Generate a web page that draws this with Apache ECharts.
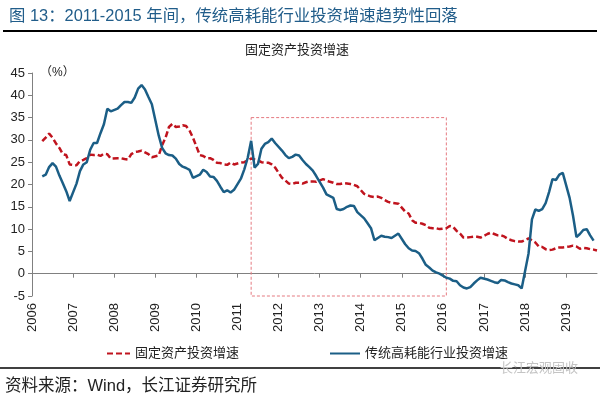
<!DOCTYPE html>
<html>
<head>
<meta charset="utf-8">
<title>固定资产投资增速</title>
<script src="https://cdn.jsdelivr.net/npm/echarts@6/dist/echarts.min.js"></script>
<style>
  html, body { margin: 0; padding: 0; background: #fff; }
  #main { width: 600px; height: 396px; }
</style>
</head>
<body>
<div id="main"></div>
<script>
  // 月份：2006-01 ~ 2019-10（1月份无单月数据，留空）
  var months = [];
  for (var y = 2006; y <= 2019; y++) {
    for (var m = 1; m <= 12; m++) {
      if (y === 2019 && m > 10) break;
      months.push(y + "-" + (m < 10 ? "0" + m : m));
    }
  }

  // 固定资产投资增速（%），累计同比
  var fai = [
    null, null, null, 29.7, 30.5, 31.4, 30.5, 29.2, 28.2, 26.8, 26.6, 24.5,
    null, 24.3, 25.3, 25.5, 25.9, 26.7, 26.6, 26.7, 26.4, 26.9, 26.8, 25.8,
    null, 25.9, 25.9, 25.7, 25.6, 26.8, 27.3, 27.4, 27.6, 27.2, 26.8, 26.1,
    null, 26.5, 28.8, 30.5, 32.9, 33.6, 32.9, 33.0, 33.3, 33.1, 32.1, 30.5,
    null, 26.6, 26.4, 25.9, 25.9, 25.5, 24.9, 24.8, 24.5, 24.4, 24.9, 24.5,
    null, 24.9, 25.0, 25.4, 25.8, 25.6, 25.4, 25.0, 24.9, 24.9, 24.5, 23.8,
    null, 21.5, 20.9, 20.2, 20.1, 20.4, 20.4, 20.2, 20.5, 20.7, 20.7, 20.6,
    null, 21.2, 20.9, 20.6, 20.4, 20.1, 20.1, 20.3, 20.2, 20.1, 19.9, 19.6,
    null, 17.9, 17.6, 17.3, 17.2, 17.3, 17.0, 16.5, 16.1, 15.9, 15.8, 15.7,
    null, 13.9, 13.5, 12.0, 11.4, 11.4, 11.2, 10.9, 10.3, 10.2, 10.2, 10.0,
    null, 10.2, 10.7, 10.5, 9.6, 9.0, 8.1, 8.1, 8.2, 8.3, 8.3, 8.1,
    null, 8.9, 9.2, 8.9, 8.6, 8.6, 8.3, 7.8, 7.5, 7.3, 7.2, 7.2,
    null, 7.9, 7.5, 7.0, 6.1, 6.0, 5.5, 5.3, 5.4, 5.7, 5.9, 5.9,
    null, 6.1, 6.3, 6.1, 5.6, 5.8, 5.7, 5.5, 5.4, 5.2
  ];

  // 传统高耗能行业投资增速（%）
  var energy = [
    null, null, null, 21.8, 22.2, 23.9, 24.8, 24.0, 22.0, 20.3, 18.5, 16.3,
    null, 20.2, 23.0, 24.5, 25.0, 27.8, 29.3, 29.3, 31.5, 33.5, 37.0, 36.4,
    null, 37.0, 37.8, 38.5, 38.5, 38.3, 39.5, 41.5, 42.3, 41.3, 39.6, 38.0,
    null, 31.0, 28.2, 27.0, 26.6, 26.5, 25.8, 24.6, 24.0, 23.7, 23.3, 21.5,
    null, 22.2, 23.3, 22.8, 21.8, 21.7, 20.8, 19.5, 18.3, 18.7, 18.2, 18.8,
    null, 21.3, 23.4, 26.0, 29.8, 23.8, 24.6, 28.0, 29.1, 29.5, 30.3, 29.3,
    null, 27.6, 26.6, 25.9, 26.2, 26.7, 26.5, 25.5, 24.6, 23.9, 23.1, 21.9,
    null, 19.3, 17.8, 17.4, 17.0, 14.5, 14.3, 14.5, 15.0, 15.3, 15.2, 13.8,
    null, 12.4, 11.3, 10.2, 7.5, 8.0, 8.5, 8.3, 8.2, 8.0, 8.5, 9.0,
    null, 6.6, 5.7, 5.2, 5.1, 4.6, 3.4, 2.0, 1.4, 0.7, 0.3, 0.0,
    null, -0.9, -1.1, -1.6, -1.7, -2.6, -3.1, -3.3, -3.0, -2.2, -1.5, -0.9,
    null, -1.3, -1.6, -1.9, -2.1, -1.4, -1.5, -1.9, -2.2, -2.4, -2.6, -3.3,
    null, 4.5, 12.2, 14.4, 14.1, 14.5, 15.8, 18.3, 21.2, 21.0, 22.2, 22.6,
    null, 17.0, 13.0, 8.2, 8.9, 9.8, 10.0, 8.6, 7.4, null
  ];

  // 纵轴刻度
  var yMin = -5, yMax = 45, yStep = 5;
  // 2011-2015 标注框
  var boxMonths = ["2011-05", "2016-02"];
  var boxValues = [35, -5];

  var font = "'Liberation Sans', 'Noto Sans CJK SC', sans-serif";
  var red = "#c0141e";
  var blue = "#1b5e86";

  var myChart = echarts.init(document.getElementById("main"));
  var option = {
    animation: false,
    textStyle: { fontFamily: font },
    title: {
      text: "图 13：2011-2015 年间，传统高耗能行业投资增速趋势性回落",
      left: 4,
      top: 3,
      textStyle: { fontSize: 16.4, fontWeight: "normal", color: "#215d8a", fontFamily: font }
    },
    grid: { left: 32, right: 3, top: 73, bottom: 100, containLabel: false },
    legend: [
      {
        data: ["固定资产投资增速"],
        left: 101, top: 342,
        itemWidth: 23, itemHeight: 12,
        itemStyle: { opacity: 0 },
        textStyle: { fontSize: 13, color: "#222", fontFamily: font }
      },
      {
        data: ["传统高耗能行业投资增速"],
        left: 324, top: 342,
        itemWidth: 30, itemHeight: 12,
        itemStyle: { opacity: 0 },
        textStyle: { fontSize: 13, color: "#222", fontFamily: font }
      }
    ],
    xAxis: [
      {
        // 0 轴上的横线与年份刻度
        type: "category",
        data: months,
        boundaryGap: false,
        position: "bottom",
        axisLine: { onZero: true, lineStyle: { color: "#808080", width: 1 } },
        axisTick: { interval: 11, length: 4, lineStyle: { color: "#808080" } },
        axisLabel: { show: false },
        splitLine: { show: false }
      },
      {
        // 底部年份标签
        type: "category",
        data: months,
        boundaryGap: false,
        position: "bottom",
        axisLine: { show: false, onZero: false },
        axisTick: { show: false },
        axisLabel: {
          interval: 11,
          rotate: 90,
          margin: 7,
          fontSize: 13,
          color: "#222",
          fontFamily: font,
          formatter: function (v) { return v.slice(0, 4); }
        },
        splitLine: { show: false }
      }
    ],
    yAxis: {
      type: "value",
      min: yMin,
      max: yMax,
      interval: yStep,
      axisLine: { show: true, lineStyle: { color: "#808080" } },
      axisTick: { show: true, length: 4, lineStyle: { color: "#808080" } },
      axisLabel: { fontSize: 13, color: "#222", margin: 7, fontFamily: font },
      splitLine: { show: false }
    },
    series: [
      {
        name: "固定资产投资增速",
        type: "line",
        data: fai,
        symbol: "none",
        connectNulls: true,
        lineStyle: { color: red, width: 2.5, type: [6, 3] },
        itemStyle: { color: red },
        z: 2
      },
      {
        name: "传统高耗能行业投资增速",
        type: "line",
        data: energy,
        symbol: "none",
        connectNulls: true,
        lineStyle: { color: blue, width: 2.5 },
        itemStyle: { color: blue },
        z: 3,
        markArea: {
          silent: true,
          itemStyle: {
            color: "rgba(0,0,0,0)",
            borderColor: "#e57a80",
            borderWidth: 1,
            borderType: [3, 2]
          },
          data: [[
            { xAxis: boxMonths[0], yAxis: boxValues[0] },
            { xAxis: boxMonths[1], yAxis: boxValues[1] }
          ]]
        }
      }
    ],
    graphic: [
      { type: "line", shape: { x1: 3, y1: 31, x2: 597, y2: 31 }, style: { stroke: "#000", lineWidth: 2 } },
      {
        type: "text", x: 297, y: 50,
        style: { text: "固定资产投资增速", fill: "#222", font: "13px " + font, align: "center", verticalAlign: "middle" }
      },
      {
        type: "text", x: 40, y: 73,
        style: { text: "（%）", fill: "#222", font: "12px " + font, verticalAlign: "middle" }
      },
      { type: "line", shape: { x1: 0, y1: 368, x2: 600, y2: 368 }, style: { stroke: "#000", lineWidth: 1.5 } },
      {
        type: "text", x: 500, y: 368,
        style: { text: "长江宏观固收", fill: "#c4c4c4", font: "13px " + font, verticalAlign: "middle" }
      },
      {
        type: "text", x: 5, y: 386,
        style: { text: "资料来源：Wind，长江证券研究所", fill: "#222", font: "16.5px " + font, verticalAlign: "middle" }
      }
    ]
  };

  myChart.setOption(option);
  window.addEventListener("resize", function () {
    myChart.resize();
  });
</script>
</body>
</html>
